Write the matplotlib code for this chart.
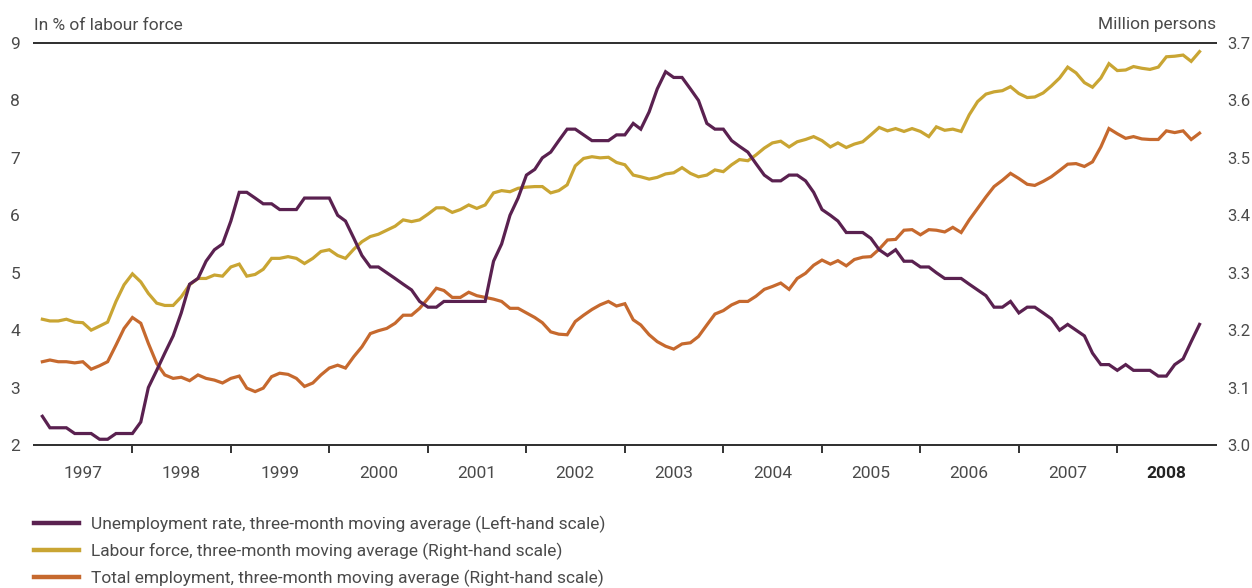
import pandas as pd
import matplotlib
matplotlib.use('Agg')
import matplotlib.pyplot as plt
from matplotlib.lines import Line2D

plt.rcParams['font.family'] = ['Liberation Sans Narrow', 'Roboto', 'DejaVu Sans']

# monthly points, three-month moving averages
months = pd.date_range('1997-02-01', periods=142, freq='MS')

# unemployment rate, % of labour force (left-hand scale)
unemployment = [
    2.5, 2.3, 2.3, 2.3, 2.2, 2.2, 2.2, 2.1, 2.1, 2.2, 2.2, 2.2,
    2.4, 3.0, 3.3, 3.6, 3.9, 4.3, 4.8, 4.9, 5.2, 5.4, 5.5, 5.9,
    6.4, 6.4, 6.3, 6.2, 6.2, 6.1, 6.1, 6.1, 6.3, 6.3, 6.3, 6.3,
    6.0, 5.9, 5.6, 5.3, 5.1, 5.1, 5.0, 4.9, 4.8, 4.7, 4.5, 4.4,
    4.4, 4.5, 4.5, 4.5, 4.5, 4.5, 4.5, 5.2, 5.5, 6.0, 6.3, 6.7,
    6.8, 7.0, 7.1, 7.3, 7.5, 7.5, 7.4, 7.3, 7.3, 7.3, 7.4, 7.4,
    7.6, 7.5, 7.8, 8.2, 8.5, 8.4, 8.4, 8.2, 8.0, 7.6, 7.5, 7.5,
    7.3, 7.2, 7.1, 6.9, 6.7, 6.6, 6.6, 6.7, 6.7, 6.6, 6.4, 6.1,
    6.0, 5.9, 5.7, 5.7, 5.7, 5.6, 5.4, 5.3, 5.4, 5.2, 5.2, 5.1,
    5.1, 5.0, 4.9, 4.9, 4.9, 4.8, 4.7, 4.6, 4.4, 4.4, 4.5, 4.3,
    4.4, 4.4, 4.3, 4.2, 4.0, 4.1, 4.0, 3.9, 3.6, 3.4, 3.4, 3.3,
    3.4, 3.3, 3.3, 3.3, 3.2, 3.2, 3.4, 3.5, 3.8, 4.1,
]

# labour force, million persons (right-hand scale)
labour_force = [
    3.219, 3.216, 3.216, 3.219, 3.214, 3.213, 3.200, 3.207, 3.214, 3.250, 3.279, 3.298,
    3.284, 3.264, 3.247, 3.243, 3.243, 3.258, 3.279, 3.290, 3.290, 3.296, 3.294, 3.310,
    3.315, 3.294, 3.297, 3.306, 3.325, 3.325, 3.328, 3.325, 3.316, 3.325, 3.337, 3.340,
    3.330, 3.325, 3.341, 3.354, 3.363, 3.367, 3.374, 3.381, 3.392, 3.389, 3.392, 3.402,
    3.413, 3.413, 3.405, 3.410, 3.418, 3.412, 3.418, 3.439, 3.443, 3.441, 3.447, 3.449,
    3.450, 3.450, 3.439, 3.443, 3.453, 3.486, 3.499, 3.502, 3.500, 3.501, 3.492, 3.488,
    3.470, 3.467, 3.463, 3.466, 3.472, 3.474, 3.483, 3.473, 3.467, 3.470, 3.479, 3.476,
    3.488, 3.497, 3.495, 3.505, 3.517, 3.526, 3.529, 3.519, 3.528, 3.532, 3.537, 3.530,
    3.519, 3.526, 3.518, 3.524, 3.528, 3.540, 3.553, 3.547, 3.551, 3.546, 3.551, 3.546,
    3.537, 3.554, 3.548, 3.550, 3.546, 3.575, 3.598, 3.611, 3.615, 3.617, 3.624, 3.612,
    3.605, 3.606, 3.613, 3.625, 3.639, 3.658, 3.648, 3.631, 3.623, 3.639, 3.664, 3.652,
    3.653, 3.659, 3.656, 3.654, 3.658, 3.676, 3.677, 3.679, 3.668, 3.685,
]

# total employment, million persons (right-hand scale)
employment = [
    3.145, 3.148, 3.145, 3.145, 3.143, 3.145, 3.132, 3.138, 3.145, 3.174, 3.203, 3.222,
    3.212, 3.177, 3.142, 3.122, 3.116, 3.118, 3.112, 3.122, 3.116, 3.113, 3.108, 3.116,
    3.120, 3.099, 3.093, 3.099, 3.119, 3.125, 3.123, 3.116, 3.102, 3.108, 3.122, 3.134,
    3.139, 3.134, 3.154, 3.171, 3.194, 3.199, 3.203, 3.212, 3.226, 3.226, 3.238, 3.255,
    3.273, 3.269, 3.257, 3.257, 3.266, 3.260, 3.257, 3.254, 3.250, 3.238, 3.238, 3.230,
    3.222, 3.213, 3.197, 3.193, 3.192, 3.215, 3.226, 3.236, 3.244, 3.250, 3.242, 3.246,
    3.218, 3.209, 3.192, 3.180, 3.172, 3.167, 3.176, 3.178, 3.189, 3.209, 3.228, 3.234,
    3.244, 3.250, 3.250, 3.259, 3.271, 3.276, 3.282, 3.271, 3.290, 3.299, 3.313, 3.322,
    3.315, 3.321, 3.312, 3.323, 3.327, 3.328, 3.341, 3.357, 3.358, 3.374, 3.375, 3.366,
    3.375, 3.374, 3.371, 3.379, 3.370, 3.392, 3.412, 3.432, 3.450, 3.461, 3.473, 3.464,
    3.454, 3.452, 3.459, 3.467, 3.478, 3.489, 3.490, 3.485, 3.493, 3.519, 3.551, 3.542,
    3.534, 3.537, 3.533, 3.532, 3.532, 3.547, 3.544, 3.547, 3.532, 3.543,
]

years = list(range(1997, 2009))
labels = [
    'Unemployment rate, three-month moving average (Left-hand scale)',
    'Labour force, three-month moving average (Right-hand scale)',
    'Total employment, three-month moving average (Right-hand scale)',
]

c_unemp = '#5a2150'
c_lab = '#c9a533'
c_emp = '#c6692e'
c_text = '#4a4a4a'
c_axis = '#333333'

fig = plt.figure(figsize=(12.52, 5.88), dpi=100)
ax = fig.add_axes([34 / 1252, 1 - 445 / 588, 1182 / 1252, 402 / 588])
ax2 = ax.twinx()

ax2.plot(months, labour_force, color=c_lab, lw=2.3, solid_joinstyle='miter')
ax2.plot(months, employment, color=c_emp, lw=2.3, solid_joinstyle='miter')
ax.plot(months, unemployment, color=c_unemp, lw=2.3, solid_joinstyle='miter')
ax.set_zorder(ax2.get_zorder() + 1)
ax.patch.set_visible(False)

ax.set_xlim(pd.Timestamp('1997-01-01'), pd.Timestamp('2009-01-01'))
ax.set_ylim(2, 9)
ax2.set_ylim(3.0, 3.7)
ax.set_yticks(range(2, 10))
ax2.set_yticks([3.0, 3.1, 3.2, 3.3, 3.4, 3.5, 3.6, 3.7])
ax2.set_yticklabels(['3.0', '3.1', '3.2', '3.3', '3.4', '3.5', '3.6', '3.7'])

for a in (ax, ax2):
    for s in ('left', 'right'):
        a.spines[s].set_visible(False)
    for s in ('top', 'bottom'):
        a.spines[s].set_color(c_axis)
        a.spines[s].set_linewidth(1.4)

ax.tick_params(axis='y', length=0, pad=10, labelsize=12.5, labelcolor=c_text)
ax2.tick_params(axis='y', length=0, pad=8, labelsize=12, labelcolor=c_text)

ax.set_xticks([pd.Timestamp(f'{y}-01-01') for y in years[1:]])
ax.set_xticklabels([])
ax.tick_params(axis='x', which='major', length=6, width=1.4, color=c_axis, direction='out')
ax.set_xticks([pd.Timestamp(f'{y}-07-01') for y in years], minor=True)
ax.set_xticklabels([str(y) for y in years], minor=True)
ax.tick_params(axis='x', which='minor', length=0, pad=15, labelsize=12.5, labelcolor=c_text)
ax.xaxis.get_minorticklabels()[-1].set_fontweight('bold')
ax.xaxis.get_minorticklabels()[-1].set_color('#222222')

fig.text(34 / 1252, 1 - 25 / 588, 'In % of labour force', fontsize=12.5, color=c_text,
         ha='left', va='center')
fig.text(1216 / 1252, 1 - 25 / 588, 'Million persons', fontsize=12.5, color=c_text,
         ha='right', va='center')

handles = [Line2D([0], [0], color=c, lw=3.2) for c in (c_unemp, c_lab, c_emp)]
fig.legend(handles, labels, loc='upper left', bbox_to_anchor=(34 / 1252, 1 - 516 / 588),
           frameon=False, fontsize=12.5, handlelength=2.6, handletextpad=0.7,
           labelspacing=0.55, borderaxespad=0, borderpad=0, labelcolor=c_text)

fig.savefig('out.png', dpi=100)
